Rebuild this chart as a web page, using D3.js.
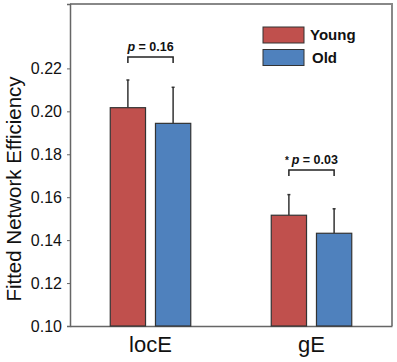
<!DOCTYPE html>
<html>
<head>
<meta charset="utf-8">
<script src="https://cdn.jsdelivr.net/npm/d3@7"></script>
<style>
  body { margin: 0; background: #fff; }
  svg { font-family: 'Liberation Sans', Arial, sans-serif; }
</style>
</head>
<body>
<div id="chart"></div>
<script>
// data
var categories = ['locE', 'gE'];
var groups = ['Young', 'Old'];
var means = { Young: [0.2017, 0.1516], Old: [0.1944, 0.1432] };
var errs = { Young: [0.0129, 0.0096], Old: [0.0168, 0.0114] };
var pLabels = ['p = 0.16', 'p = 0.03'];
var pStars = ['', '* '];
var yTicks = [0.10, 0.12, 0.14, 0.16, 0.18, 0.20, 0.22];
var colors = { Young: '#c0504d', Old: '#4f81bd' };

var width = 397, height = 362;
var margin = { left: 70, right: 5, top: 4, bottom: 36 };

var svg = d3.select('#chart').append('svg')
    .attr('width', width)
    .attr('height', height);

var x = d3.scaleBand()
    .domain(categories)
    .range([margin.left, width - margin.right])
    .paddingInner(0.5)
    .paddingOuter(0.25);

var xInner = d3.scaleBand()
    .domain(groups)
    .range([0, x.bandwidth()])
    .paddingInner(0.22);

var y = d3.scaleLinear()
    .domain([0.10, 0.25])
    .range([height - margin.bottom, margin.top]);

// frame top/right
svg.append('path')
    .attr('d', 'M' + margin.left + ',' + margin.top + 'H' + (width - margin.right) + 'V' + (height - margin.bottom))
    .attr('fill', 'none')
    .attr('stroke', '#888')
    .attr('stroke-width', 2);

// y axis
svg.append('g')
    .attr('transform', 'translate(' + margin.left + ',0)')
    .call(d3.axisLeft(y).tickValues(yTicks).tickFormat(d3.format('.2f')).tickSize(3).tickPadding(5))
    .call(g => g.select('.domain').attr('stroke', '#666').attr('stroke-width', 1.5))
    .call(g => g.selectAll('.tick line').attr('stroke', '#666'))
    .call(g => g.selectAll('.tick text').attr('font-size', 16).attr('fill', '#111')
        .attr('font-family', "'Liberation Sans', Arial, sans-serif"));

// x axis
svg.append('g')
    .attr('transform', 'translate(0,' + (height - margin.bottom) + ')')
    .call(d3.axisBottom(x).tickSize(0).tickPadding(10))
    .call(g => g.select('.domain').attr('stroke', '#666').attr('stroke-width', 1.5))
    .call(g => g.selectAll('.tick text').attr('font-size', 22).attr('fill', '#111')
        .attr('font-family', "'Liberation Sans', Arial, sans-serif"));

// y label
svg.append('text')
    .attr('transform', 'translate(21,189) rotate(-90)')
    .attr('text-anchor', 'middle')
    .attr('font-size', 20.5)
    .attr('fill', '#111')
    .text('Fitted Network Efficiency');

// bars
var barData = [];
categories.forEach(function(c, i) {
    groups.forEach(function(gname) {
        barData.push({ cat: c, group: gname, mean: means[gname][i], err: errs[gname][i] });
    });
});

var bars = svg.append('g').selectAll('g')
    .data(barData)
    .enter()
    .append('g');

bars.append('line')
    .attr('x1', d => x(d.cat) + xInner(d.group) + xInner.bandwidth() / 2)
    .attr('x2', d => x(d.cat) + xInner(d.group) + xInner.bandwidth() / 2)
    .attr('y1', d => y(d.mean))
    .attr('y2', d => y(d.mean + d.err))
    .attr('stroke', '#333')
    .attr('stroke-width', 1.5);

bars.append('line')
    .attr('x1', d => x(d.cat) + xInner(d.group) + xInner.bandwidth() / 2 - 1.5)
    .attr('x2', d => x(d.cat) + xInner(d.group) + xInner.bandwidth() / 2 + 1.5)
    .attr('y1', d => y(d.mean + d.err))
    .attr('y2', d => y(d.mean + d.err))
    .attr('stroke', '#333')
    .attr('stroke-width', 1.5);

bars.append('rect')
    .attr('x', d => x(d.cat) + xInner(d.group))
    .attr('y', d => y(d.mean))
    .attr('width', xInner.bandwidth())
    .attr('height', d => y(0.10) - y(d.mean))
    .attr('fill', d => colors[d.group])
    .attr('stroke', '#333')
    .attr('stroke-width', 1.2);

// significance brackets
var bracketY = [y(0.2253), y(0.1727)];
categories.forEach(function(c, i) {
    var x1 = x(c) + xInner('Young') + xInner.bandwidth() / 2;
    var x2 = x(c) + xInner('Old') + xInner.bandwidth() / 2;
    var by = bracketY[i];
    svg.append('path')
        .attr('d', 'M' + x1 + ',' + (by + 6) + 'V' + by + 'H' + x2 + 'V' + (by + 6))
        .attr('fill', 'none')
        .attr('stroke', '#222')
        .attr('stroke-width', 1.5);
    var t = svg.append('text')
        .attr('x', (x1 + x2) / 2)
        .attr('y', by - 6)
        .attr('text-anchor', 'middle')
        .attr('font-size', 12.5)
        .attr('font-weight', 'bold')
        .attr('fill', '#111');
    if (pStars[i]) t.append('tspan').attr('font-size', 10).text(pStars[i]);
    t.append('tspan').attr('font-style', 'italic').text('p');
    t.append('tspan').text(pLabels[i].slice(1));
});

// legend
var legend = svg.append('g')
    .attr('transform', 'translate(263,27)');
groups.forEach(function(gname, i) {
    legend.append('rect')
        .attr('x', 0)
        .attr('y', i * 22.5)
        .attr('width', 41)
        .attr('height', 16)
        .attr('fill', colors[gname])
        .attr('stroke', '#333')
        .attr('stroke-width', 1);
    legend.append('text')
        .attr('x', i == 0 ? 47 : 49)
        .attr('y', i * 22.5 + 13)
        .attr('font-size', 15)
        .attr('font-weight', 'bold')
        .attr('fill', '#111')
        .text(gname);
});
</script>
</body>
</html>
